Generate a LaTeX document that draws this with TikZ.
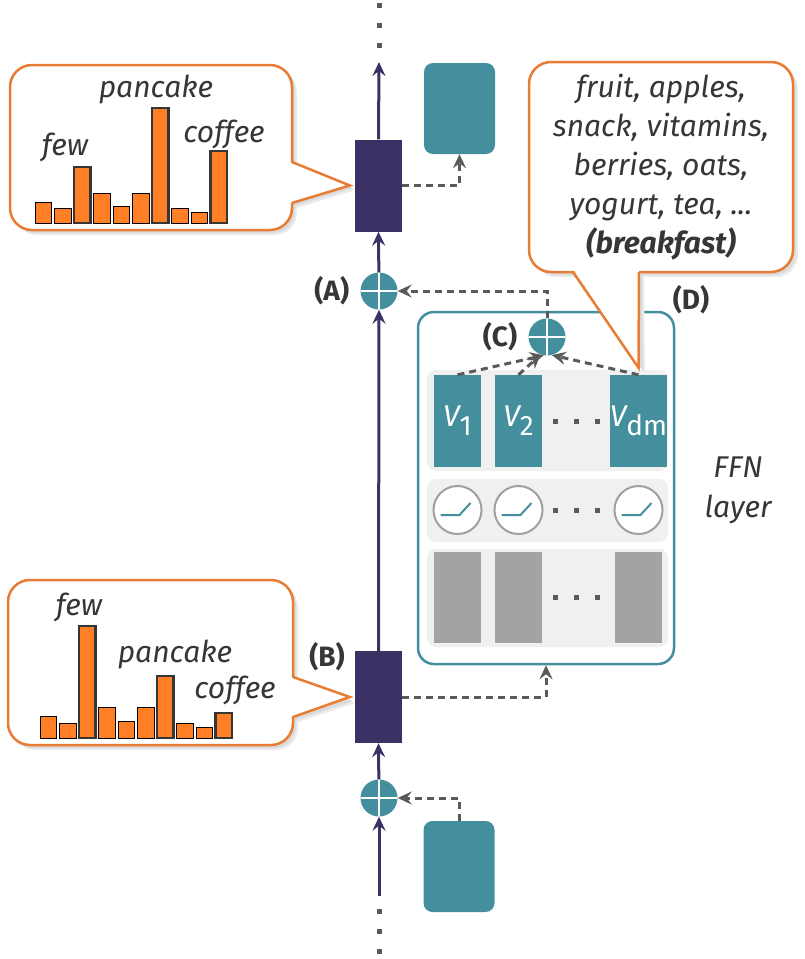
\documentclass[tikz,border=0pt]{standalone}
\usepackage{fontspec}
\setmainfont{Fira Sans}
\usetikzlibrary{arrows.meta,positioning}
\definecolor{resid}{HTML}{3B3165}
\definecolor{tealc}{HTML}{438F9E}
\definecolor{orng}{HTML}{E97C34}
\definecolor{barc}{HTML}{FF7F27}
\definecolor{dashc}{HTML}{5A5A5A}
\definecolor{txtc}{HTML}{363636}
\definecolor{panel}{HTML}{F0F0F0}
\definecolor{reluc}{HTML}{A0A0A0}
\definecolor{keyc}{HTML}{A3A3A3}
\begin{document}
\begin{tikzpicture}[x=1pt, y=-1pt,
    >={Stealth[length=14pt, width=13pt, inset=5pt]},
    flow/.style={->, draw=resid, line width=3pt},
    dashflow/.style={->, draw=dashc, line width=3pt, dash pattern=on 7pt off 5pt},
    resblock/.style={fill=resid, minimum width=47pt, minimum height=92pt, inner sep=0pt},
    embox/.style={fill=tealc, rounded corners=9pt, minimum width=71pt, minimum height=91pt, inner sep=0pt},
    addnode/.style={circle, fill=tealc, minimum size=37pt, inner sep=0pt,
      path picture={\draw[white, line width=2pt]
        (path picture bounding box.north) -- (path picture bounding box.south)
        (path picture bounding box.west) -- (path picture bounding box.east);}},
    tag/.style={font=\fontsize{28}{28}\selectfont\bfseries, text=txtc, inner sep=0pt},
    word/.style={font=\fontsize{30}{30}\selectfont\itshape, text=txtc, inner sep=0pt},
    bubble/.style={draw=orng, line width=2.5pt, fill=white, rounded corners=22pt, inner sep=0pt},
    plainbar/.style={fill=barc},
    markbar/.style={fill=barc, draw=txtc, line width=2.2pt},
    panelbox/.style={fill=panel, rounded corners=9pt, minimum width=241pt, inner sep=0pt},
    valcol/.style={fill=tealc, minimum width=47pt, minimum height=92pt, inner sep=0pt,
      text=white, font=\fontsize{30}{30}\selectfont},
    keycol/.style={fill=keyc, minimum width=47pt, minimum height=91pt, inner sep=0pt},
    relunode/.style={circle, draw=reluc, line width=2pt, fill=white, minimum size=48pt, inner sep=0pt}
  ]
  \useasboundingbox (0,0) rectangle (805,959);

  % residual stream
  \node[resblock] (hA) at (378.5,185.5) {};
  \node[resblock] (hB) at (378.5,697) {};
  \node[addnode] (addA) at (379,291) {};
  \node[addnode] (addX) at (379,798) {};
  \node[embox] (outbox) at (459.5,108.5) {};
  \node[embox] (inbox) at (459,866.5) {};
  \coordinate (topend) at (379,62);
  \coordinate (botend) at (379,896);
  \foreach \y in {5,25,45,911,931,951}
    \fill[dashc] (376.5,\y-2.5) rectangle ++(5,5);
  \node[tag, left=11pt of addA] (tagA) {(A)};
  \node[tag] (tagB) at (327,657) {(B)};

  % FFN layer
  \node[draw=tealc, line width=2.5pt, rounded corners=16pt, minimum width=256pt, minimum height=352pt] (ffn) at (546,488) {};
  \node[panelbox, minimum height=101pt] (valrow) at (547.5,420.5) {};
  \node[panelbox, minimum height=63pt] (relurow) at (547.5,510.5) {};
  \node[panelbox, minimum height=98pt] (keyrow) at (547.5,598) {};
  \foreach \c/\x/\s in {1/457.5/1, 2/518.5/2, 3/638.5/dm}
  {
    \node[valcol] (v\c) at (\x,421) {\itshape V\upshape\raisebox{-9pt}{\fontsize{28}{28}\selectfont\s}};
    \node[relunode] (r\c) at (\x,510) {};
    \draw[tealc, line width=2pt] ([shift={(-17,5)}]r\c.center) -- ++(19,0) -- ++(11,-12);
    \node[keycol] (k\c) at (\x,597.5) {};
  }
  \foreach \y in {421,510,597}
    \foreach \x in {555,576,597}
      \fill[dashc] (\x-2.5,\y-2.5) rectangle ++(5,5);
  \node[addnode] (addC) at (547,337) {};
  \node[tag, left=11pt of addC] (tagC) {(C)};
  \node[tag] (tagD) at (691,300) {(D)};
  \node[word, align=center, font=\fontsize{30}{40}\selectfont\itshape] (ffnlabel) at (738,490) {FFN\\layer};

  % connections
  \draw[flow] (hA.north) -- (topend);
  \draw[flow] (addA) -- (hA.south);
  \draw[flow] (hB.north) -- (addA.south);
  \draw[flow] (addX) -- (hB.south);
  \draw[flow] (botend) -- (addX.south);
  \draw[dashflow] (hA.east) -| (outbox.south);
  \draw[dashflow] (hB.east) -| (ffn.south);
  \draw[dashflow] (inbox.north) |- (addX.east);
  \draw[dashflow] (addC.north) |- (addA.east);
  \draw[dashflow] (v1.north) -- (addC.-100);
  \draw[dashflow] (v2.north) -- (addC.-110);
  \draw[dashflow] (v3.north) -- (addC.-75);

  % callout shadows
  \foreach \d/\g in {5/8, 3/14}
  {
    \fill[black!\g, rounded corners=22pt] (10+\d,65+\d) rectangle (292+\d,230+\d);
    \fill[black!\g] (292+\d,162+\d) -- (350+\d,185+\d) -- (292+\d,203+\d) -- cycle;
    \fill[black!\g, rounded corners=22pt] (8+\d,580+\d) rectangle (293+\d,745+\d);
    \fill[black!\g] (293+\d,677+\d) -- (350+\d,698+\d) -- (293+\d,717+\d) -- cycle;
    \fill[black!\g, rounded corners=22pt] (529+\d,62+\d) rectangle (793+\d,272+\d);
    \fill[black!\g] (573+\d,272+\d) -- (640+\d,368+\d) -- (639+\d,272+\d) -- cycle;
  }

  % top callout
  \node[bubble, minimum width=282pt, minimum height=165pt] (noteA) at (151,147.5) {};
  \coordinate (tipA) at ([xshift=-5pt]hA.west);
  \fill[white] (289,162) -- (tipA) -- (289,203) -- cycle;
  \draw[orng, line width=2.5pt] (292,162) -- (tipA) -- (292,203);
  \foreach \i/\h/\s in {1/21/plainbar, 2/15/plainbar, 3/56/markbar, 4/30/plainbar, 5/17/plainbar,
                        6/30/plainbar, 7/115/markbar, 8/15/plainbar, 9/11/plainbar, 10/72/markbar}
    \draw[\s] ({35+(\i-1)*19.5},223) rectangle ++(16.5,-\h);
  \node[word, anchor=base] (fewA) at (65,155) {few};
  \node[word, anchor=base] (pancakeA) at (156,97) {pancake};
  \node[word, anchor=base] (coffeeA) at (224,142) {coffee};

  % bottom callout
  \node[bubble, minimum width=285pt, minimum height=165pt] (noteB) at (150.5,662.5) {};
  \coordinate (tipB) at ([xshift=-5pt]hB.west);
  \fill[white] (290,677) -- (tipB) -- (290,717) -- cycle;
  \draw[orng, line width=2.5pt] (293,677) -- (tipB) -- (293,717);
  \foreach \i/\h/\s in {1/22/plainbar, 2/15/plainbar, 3/112/markbar, 4/31/plainbar, 5/17/plainbar,
                        6/31/plainbar, 7/62/markbar, 8/15/plainbar, 9/11/plainbar, 10/25/markbar}
    \draw[\s] ({40+(\i-1)*19.5},738) rectangle ++(16.5,-\h);
  \node[word, anchor=base] (fewB) at (79,615) {few};
  \node[word, anchor=base] (pancakeB) at (175,662) {pancake};
  \node[word, anchor=base] (coffeeB) at (235,698) {coffee};

  % value callout
  \node[bubble, minimum width=264pt, minimum height=210pt, align=center, text=txtc,
        font=\fontsize{30}{39}\selectfont\itshape] (noteD) at (661,167)
    {fruit, apples,\\snack, vitamins,\\berries, oats,\\yogurt, tea, ...\\\textbf{(breakfast)}};
  \coordinate (tipD) at ([yshift=7pt]v3.north);
  \fill[white] (573,269) -- (tipD) -- (639,269) -- cycle;
  \draw[orng, line width=2.5pt] (573,272) -- (tipD) -- (639,272);
\end{tikzpicture}
\end{document}
